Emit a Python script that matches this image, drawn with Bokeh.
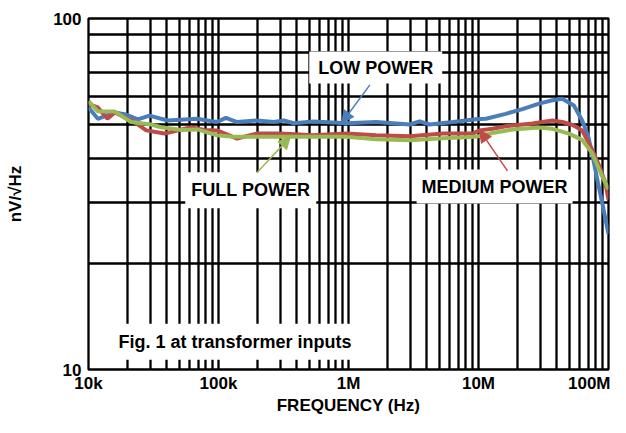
from bokeh.plotting import figure
from bokeh.models import Range1d, FixedTicker, Label, Arrow, NormalHead
from bokeh.embed import file_html
from bokeh.resources import INLINE

# ---- data ----
x_decades = [1e4, 1e5, 1e6, 1e7, 1e8]
x_tick_labels = ["10k", "100k", "1M", "10M", "100M"]
y_decades = [10, 100]
y_tick_labels = ["10", "100"]

low_f = [1.0e4, 1.18e4, 1.59e4, 1.9e4, 2.4e4, 2.94e4, 4.06e4, 6.86e4, 8.18e4, 9.75e4,
         1.14e5, 1.39e5, 1.97e5, 2.66e5, 3.18e5, 3.79e5, 5.38e5, 9.64e5, 1.63e6, 2.96e6,
         3.53e6, 4.21e6, 6.35e6, 9.53e6, 1.14e7, 1.62e7, 2.18e7, 2.92e7, 3.7e7, 4.4e7,
         5.42e7, 6.27e7, 7.0e7, 7.6e7, 8.3e7, 9.0e7, 1.0e8]
low_v = [55.8, 51.8, 54.0, 53.4, 51.6, 52.9, 51.2, 51.8, 51.2, 50.7,
         52.1, 50.7, 51.2, 50.7, 51.2, 50.3, 50.9, 50.3, 50.7, 49.9,
         50.9, 49.9, 50.7, 51.6, 51.8, 53.5, 55.2, 57.2, 58.5, 59.1,
         56.5, 51.2, 46.0, 40.0, 34.0, 29.5, 24.3]

med_f = [1.0e4, 1.18e4, 1.4e4, 1.59e4, 2.26e4, 2.78e4, 3.84e4, 6.14e4, 7.76e4, 9.75e4,
         1.39e5, 1.97e5, 3.0e5, 5.38e5, 9.64e5, 1.63e6, 2.96e6, 5.32e6, 9.03e6, 1.02e7,
         1.28e7, 1.62e7, 2.6e7, 3.7e7, 4.4e7, 5.26e7, 6.27e7, 7.48e7, 8.5e7, 9.46e7, 1.0e8]
med_v = [57.0, 55.8, 51.8, 54.0, 50.7, 48.0, 47.0, 49.0, 48.1, 48.0,
         45.5, 47.0, 47.0, 46.5, 47.0, 46.5, 46.2, 47.0, 47.0, 48.0,
         48.5, 49.3, 50.2, 51.2, 50.7, 49.8, 48.0, 42.3, 38.0, 34.0, 30.5]

full_f = [1.0e4, 1.18e4, 1.59e4, 2.13e4, 3.03e4, 3.62e4, 5.15e4, 6.86e4, 9.75e4, 1.31e5,
          1.97e5, 3.0e5, 5.38e5, 9.64e5, 1.63e6, 2.96e6, 5.3e6, 9.53e6, 1.28e7, 1.83e7,
          2.92e7, 3.7e7, 4.96e7, 6.27e7, 7.48e7, 8.91e7, 1.0e8]
full_v = [58.2, 54.4, 54.3, 50.7, 49.9, 49.0, 48.1, 48.3, 46.5, 46.0,
          46.0, 46.0, 46.0, 46.0, 45.3, 45.0, 45.6, 46.0, 47.2, 48.3,
          48.9, 48.5, 47.0, 45.1, 41.4, 35.6, 32.6]

BLUE = "#4A7EBB"
RED = "#BE4B48"
GREEN = "#98B954"
FONT = "Liberation Sans"

p = figure(width=610, height=417, x_axis_type="log", y_axis_type="log",
           x_range=Range1d(1e4, 1e8), y_range=Range1d(10, 100),
           output_backend="svg", toolbar_location=None,
           min_border_left=88, min_border_right=2, min_border_top=18, min_border_bottom=30,
           background_fill_color="white", border_fill_color="white")

x_minor = [m * d for d in x_decades[:-1] for m in range(2, 10)]
y_minor = [m * d for d in y_decades[:-1] for m in range(2, 10)]
xt = FixedTicker(ticks=x_decades, minor_ticks=x_minor)
yt = FixedTicker(ticks=y_decades, minor_ticks=y_minor)
p.xaxis.ticker = xt
p.yaxis.ticker = yt
p.xgrid.ticker = xt
p.ygrid.ticker = yt

for g in (p.xgrid, p.ygrid):
    g.grid_line_color = "black"
    g.grid_line_width = 2.3
    g.grid_line_alpha = 1
    g.minor_grid_line_color = "black"
    g.minor_grid_line_width = 2.3
    g.minor_grid_line_alpha = 1

p.outline_line_color = "black"
p.outline_line_width = 2.3
p.outline_line_alpha = 1

p.xaxis.major_label_overrides = {v: s for v, s in zip(x_decades, x_tick_labels)}
p.yaxis.major_label_overrides = {v: s for v, s in zip(y_decades, y_tick_labels)}

for ax in (p.xaxis, p.yaxis):
    ax.axis_line_color = None
    ax.major_tick_line_color = None
    ax.minor_tick_line_color = None
    ax.major_tick_out = 0
    ax.major_tick_in = 0
    ax.minor_tick_out = 0
    ax.minor_tick_in = 0
    ax.major_label_text_font = FONT
    ax.major_label_text_font_style = "bold"
    ax.major_label_text_font_size = "17px"
    ax.major_label_text_color = "black"
    ax.axis_label_text_font = FONT
    ax.axis_label_text_font_style = "bold"
    ax.axis_label_text_font_size = "17px"
    ax.axis_label_text_color = "black"

p.xaxis.axis_label = "FREQUENCY (Hz)"
p.xaxis.major_label_standoff = 4
p.xaxis.axis_label_standoff = 0
p.yaxis.axis_label = "nV/\u221aHz"
p.yaxis.major_label_standoff = 7
p.yaxis.axis_label_standoff = 25

p.line(low_f, low_v, line_color=BLUE, line_width=4)
p.line(med_f, med_v, line_color=RED, line_width=4)
p.line(full_f, full_v, line_color=GREEN, line_width=4)

def add_label(x, y, text, pad):
    p.add_layout(Label(x=x, y=y, text=text, text_align="center", text_baseline="middle",
                       text_font=FONT, text_font_style="bold", text_font_size="18px",
                       text_color="black", background_fill_color="white",
                       padding=pad))

add_label(1.62e6, 72.5, "LOW POWER", dict(left=9, right=9, top=6, bottom=6))
add_label(1.77e5, 32.4, "FULL POWER", dict(left=6, right=6, top=8, bottom=8))
add_label(1.33e7, 33.2, "MEDIUM POWER", dict(left=5, right=5, top=7, bottom=7))
add_label(1.34e5, 12.0, "Fig. 1 at transformer inputs", dict(left=15, right=15, top=8, bottom=8))

def add_arrow(xs, ys, xe, ye, c):
    p.add_layout(Arrow(end=NormalHead(size=12, fill_color=c, line_color=c),
                       x_start=xs, y_start=ys, x_end=xe, y_end=ye,
                       line_color=c, line_width=1.5))

add_arrow(1.46e6, 64.7, 8.87e5, 50.4, BLUE)
add_arrow(1.98e5, 36.4, 3.57e5, 46.0, GREEN)
add_arrow(1.67e7, 36.8, 1.02e7, 48.1, RED)

open("out.html", "w").write(file_html(p, INLINE))
